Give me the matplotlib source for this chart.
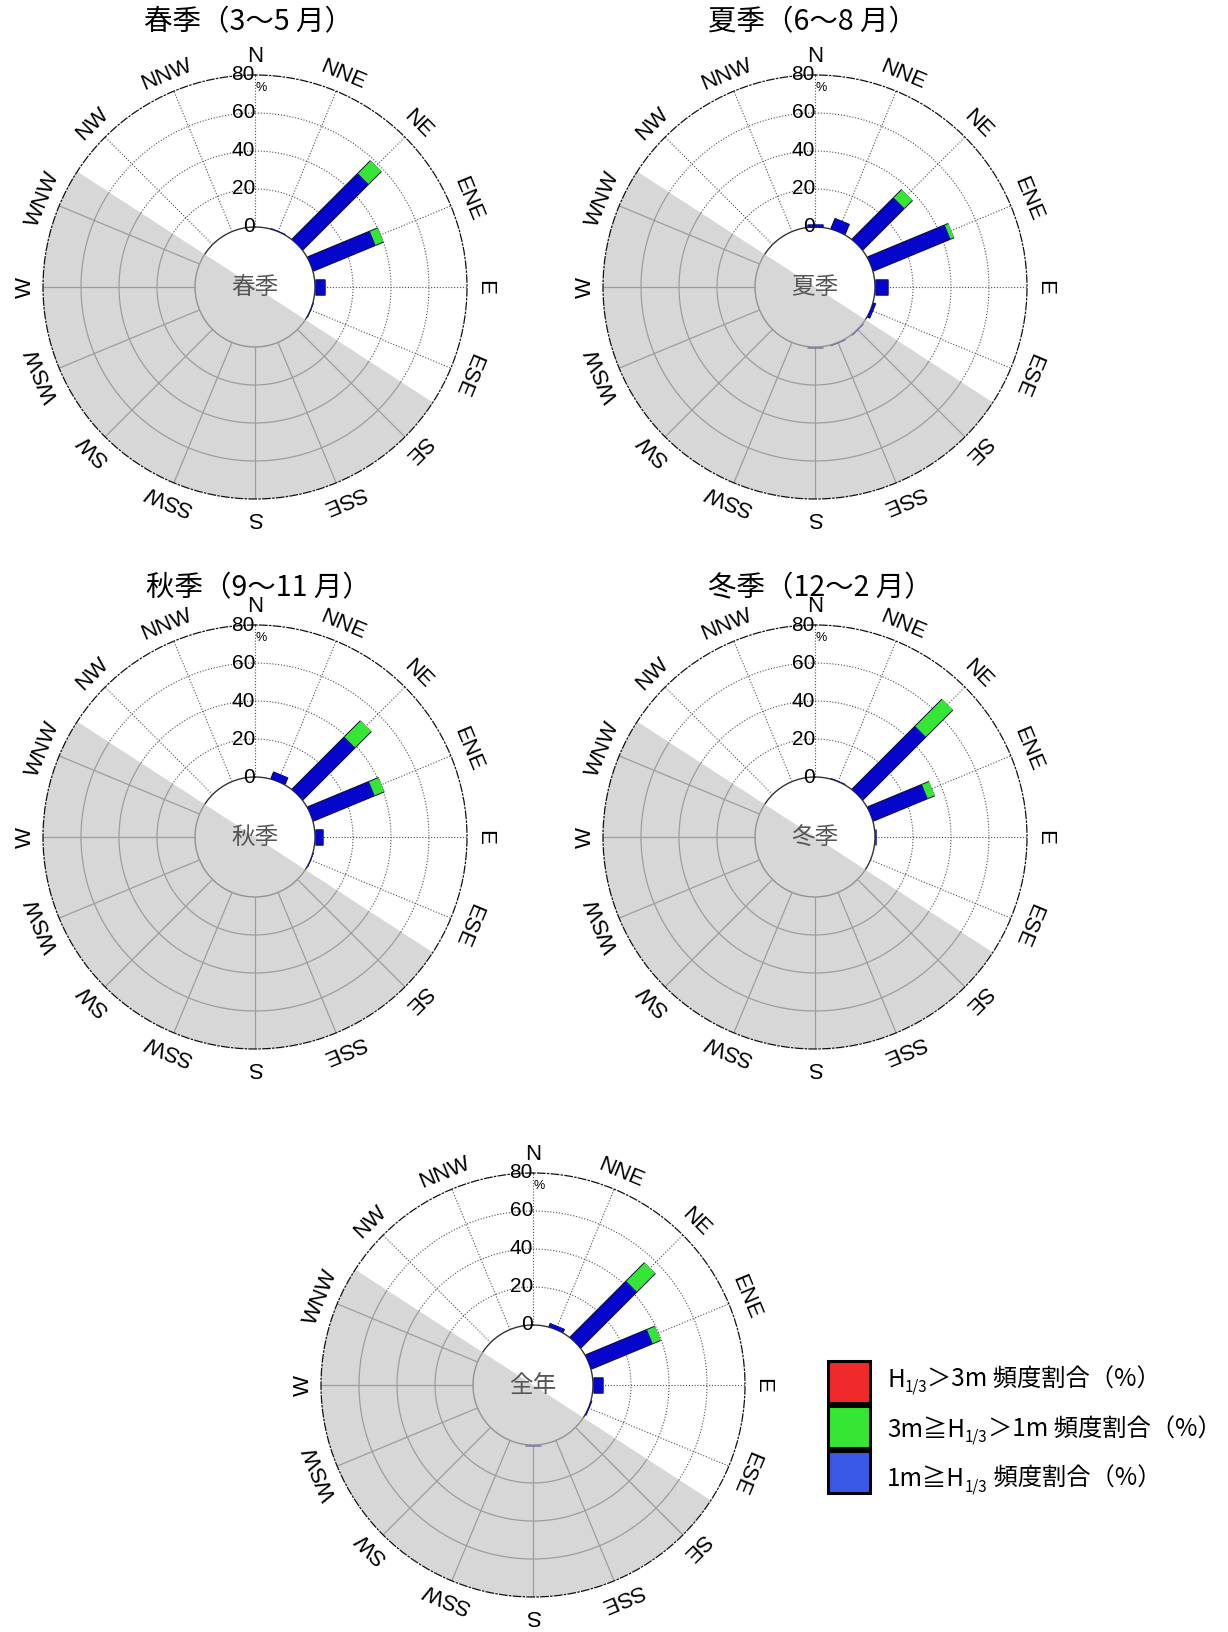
import numpy as np
import matplotlib
matplotlib.use('Agg')
import matplotlib.pyplot as plt
import matplotlib.patheffects as pe
from matplotlib.patches import Polygon, Rectangle

plt.rcParams['font.family'] = ['Liberation Sans', 'Noto Sans CJK JP', 'DejaVu Sans']
CJK = ['Noto Sans CJK JP', 'DejaVu Sans']

# ---------------- data ----------------
directions = ['N', 'NNE', 'NE', 'ENE', 'E', 'ESE', 'SE', 'SSE',
              'S', 'SSW', 'SW', 'WSW', 'W', 'WNW', 'NW', 'NNW']
bearings = np.arange(16) * 22.5

titles = ['春季（3～5 月）', '夏季（6～8 月）', '秋季（9～11 月）', '冬季（12～2 月）', None]
centre_labels = ['春季', '夏季', '秋季', '冬季', '全年']

# 1m >= H1/3 (%)
spring_low = [0, 0.3, 49, 35.5, 5, 0.3, 0, 0, 0, 0, 0, 0, 0, 0, 0, 0]
summer_low = [1.5, 6, 31, 44, 7, 1.5, 0.5, 0.5, 0.5, 0, 0, 0, 0, 0, 0, 0]
autumn_low = [0, 4, 39, 35, 4.3, 0.3, 0, 0, 0, 0, 0, 0, 0, 0, 0, 0]
winter_low = [0, 0.3, 47, 31, 0.6, 0, 0, 0, 0, 0, 0, 0, 0, 0, 0, 0]
annual_low = [0, 2, 41.8, 35, 5, 0.5, 0, 0, 0.3, 0, 0, 0, 0, 0, 0, 0]
# 3m >= H1/3 > 1m (%)
spring_mid = [0, 0, 9.5, 4.5, 0, 0, 0, 0, 0, 0, 0, 0, 0, 0, 0, 0]
summer_mid = [0, 0, 6, 2, 0, 0, 0, 0, 0, 0, 0, 0, 0, 0, 0, 0]
autumn_mid = [0, 0, 12, 5.5, 0, 0, 0, 0, 0, 0, 0, 0, 0, 0, 0, 0]
winter_mid = [0, 0, 20, 4, 0, 0, 0, 0, 0, 0, 0, 0, 0, 0, 0, 0]
annual_mid = [0, 0, 13.7, 4.5, 0, 0, 0, 0, 0, 0, 0, 0, 0, 0, 0, 0]
# H1/3 > 3m (%)
spring_high = [0] * 16
summer_high = [0] * 16
autumn_high = [0] * 16
winter_high = [0] * 16
annual_high = [0] * 16

r_ticks = [0, 20, 40, 60, 80]

legend_rows = [
    [('H', 1.0, 0), ('1/3', 0.62, -5), ('＞3m 頻度割合（%）', 1.0, 0)],
    [('3m≧H', 1.0, 0), ('1/3', 0.62, -5), ('＞1m 頻度割合（%）', 1.0, 0)],
    [('1m≧H', 1.0, 0), ('1/3', 0.62, -5), (' 頻度割合（%）', 1.0, 0)],
]

# ---------------- style / layout ----------------
W, H = 1228, 1632
PX_PER = 1.9
HOLE_PX = 60
OFF = HOLE_PX / PX_PER
RMAX = OFF + 80
R_PX = RMAX * PX_PER
LAB_R = 230 / PX_PER
LAND = (123, 303)

BLUE = '#0505cc'
GREEN = '#35e635'
RED = '#f02a2a'
BAR_LW = 10.5

centres = [(255, 287), (815, 287), (255, 837), (815, 837), (533, 1385)]
title_pos = [(248, 22), (812, 22), (258, 588), (820, 588), None]

fig = plt.figure(figsize=(W / 100, H / 100), dpi=100)

lows = [spring_low, summer_low, autumn_low, winter_low, annual_low]
mids = [spring_mid, summer_mid, autumn_mid, winter_mid, annual_mid]
highs = [spring_high, summer_high, autumn_high, winter_high, annual_high]


def half_poly(ax, b0, b1, **kw):
    th = np.radians(np.linspace(b0, b1, 240))
    verts = [(t, RMAX) for t in th] + [(0.0, 0.0)]
    return Polygon(verts, closed=True, transform=ax.transData, **kw)


for i, (cx, cy) in enumerate(centres):
    ax = fig.add_axes([(cx - R_PX) / W, 1 - (cy + R_PX) / H, 2 * R_PX / W, 2 * R_PX / H],
                      projection='polar')
    ax.set_theta_zero_location('N')
    ax.set_theta_direction(-1)
    ax.grid(False)
    ax.set_xticks([])
    ax.set_yticks([])
    ax.spines['polar'].set_linestyle((0, (6, 2, 1, 2)))
    ax.spines['polar'].set_linewidth(0.9)
    ax.spines['polar'].set_color('#111111')

    clip_land = half_poly(ax, LAND[0], LAND[1], facecolor='none', edgecolor='none')
    clip_sea = half_poly(ax, LAND[1], LAND[0] + 360, facecolor='none', edgecolor='none')

    th_full = np.linspace(0, 2 * np.pi, 721)
    # rings
    for v in [20, 40, 60]:
        l1, = ax.plot(th_full, np.full_like(th_full, OFF + v), color='#505050', lw=0.8,
                      ls=(0, (1, 1.6)), zorder=1)
        l1.set_clip_path(clip_sea)
        l2, = ax.plot(th_full, np.full_like(th_full, OFF + v), color='#6e6e6e', lw=0.9, zorder=1)
        l2.set_clip_path(clip_land)
    # hole edge
    h1, = ax.plot(th_full, np.full_like(th_full, OFF), color='#333333', lw=1.0, zorder=1)
    h1.set_clip_path(clip_sea)
    h2, = ax.plot(th_full, np.full_like(th_full, OFF), color='#555555', lw=1.0, zorder=1)
    h2.set_clip_path(clip_land)
    # spokes
    for b in bearings:
        t = np.radians(b)
        s1, = ax.plot([t, t], [OFF, RMAX], color='#505050', lw=0.8, ls=(0, (1, 1.6)), zorder=1)
        s1.set_clip_path(clip_sea)
        s2, = ax.plot([t, t], [OFF, RMAX], color='#6e6e6e', lw=0.9, zorder=1)
        s2.set_clip_path(clip_land)

    # stacked bars
    theta = np.radians(bearings)
    bottom = np.zeros(16)
    for vals, col in [(lows[i], BLUE), (mids[i], GREEN), (highs[i], RED)]:
        v = np.asarray(vals, dtype=float)
        m = v > 0
        if m.any():
            ax.vlines(theta[m], OFF + bottom[m], OFF + bottom[m] + v[m], colors=col,
                      lw=BAR_LW, capstyle='butt', zorder=2,
                      path_effects=[pe.Stroke(linewidth=BAR_LW + 1.4, foreground='#101030'),
                                    pe.Normal()])
        bottom = bottom + v

    # land overlay
    ax.add_patch(half_poly(ax, LAND[0], LAND[1], facecolor='#bdbdbd', alpha=0.6,
                           edgecolor='none', zorder=2.2))

    ax.set_ylim(0, RMAX)

    # radial tick labels
    for v in r_ticks:
        ax.text(0, OFF + v, str(v), ha='right', va='center', fontsize=15, zorder=5)
    ax.annotate('%', xy=(0, RMAX), xytext=(6, -13), textcoords='offset pixels',
                fontsize=9, ha='center', va='center', zorder=5)

    # direction labels
    for name, b in zip(directions, bearings):
        ax.text(np.radians(b), LAB_R, name, rotation=-b, rotation_mode='anchor',
                ha='center', va='center', fontsize=16, clip_on=False)

    ax.text(0, 0, centre_labels[i], ha='center', va='center', fontsize=17,
            color='#555555', family=CJK, zorder=6)

    if titles[i] is not None:
        tx, ty = title_pos[i]
        fig.text(tx / W, 1 - ty / H, titles[i], ha='center', va='center',
                 fontsize=20.5, family=CJK)

# ---------------- legend ----------------
box_tops = [1361, 1406, 1451]
box_cols = [RED, GREEN, '#3a58e6']
for top, col in zip(box_tops, box_cols):
    fig.patches.append(Rectangle((828 / W, 1 - (top + 42) / H), 42 / W, 42 / H,
                                 transform=fig.transFigure, facecolor=col,
                                 edgecolor='black', lw=2.2))

renderer = fig.canvas.get_renderer()
baselines = [1387, 1437, 1486]
LEG_FS = 17.5
for row, yb in zip(legend_rows, baselines):
    x = 887
    for txt, scale, dy in row:
        t = fig.text(x / W, 1 - (yb - dy) / H, txt, ha='left', va='baseline',
                     fontsize=LEG_FS * scale, family=CJK)
        bb = t.get_window_extent(renderer=renderer)
        x = bb.x1

fig.savefig('out.png', dpi=100)
